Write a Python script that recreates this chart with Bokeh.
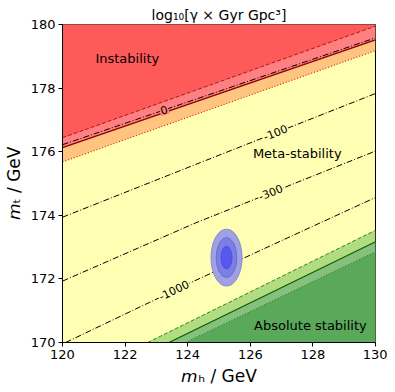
import math
from bokeh.plotting import figure
from bokeh.models import Range1d, ColumnDataSource, FixedTicker
from bokeh.core.properties import value
from bokeh.embed import file_html
from bokeh.resources import INLINE

# ---------------- data ----------------
mh_edge = [120.0, 130.0]
mt_top = [180.0, 180.0]
instab_dashed = [176.44, 179.95]
instab_solid = [176.13, 179.52]
instab_dotted = [175.68, 179.18]

c0_mh = [120.0, 130.0]
c0_mt = [176.22, 179.58]
c100_mh = [120.0, 124.41, 130.0]
c100_mt = [173.94, 175.66, 177.83]
c300_mh = [120.0, 124.25, 130.0]
c300_mt = [171.93, 173.76, 176.02]
c1000_mh = [120.1, 124.2, 127.3, 130.0]
c1000_mt = [170.0, 171.93, 173.34, 174.56]

stab_dashed_mh = [122.72, 130.0]
stab_dashed_mt = [170.0, 173.53]
stab_solid_mh = [123.40, 130.0]
stab_solid_mt = [170.0, 173.17]
stab_dotted_mh = [123.93, 130.0]
stab_dotted_mt = [170.0, 172.85]
mt_bottom = [170.0, 170.0]

mh_best = 125.24
mt_best = 172.67
ell_w = [0.99, 0.66, 0.35]
ell_h = [1.79, 1.26, 0.71]

level_text = ["0", "-100", "-300", "-1000"]
level_mh = [123.24, 126.8, 126.65, 123.56]
level_mt = [177.31, 176.60, 174.72, 171.64]
level_angle = [18.8, 21.6, 21.6, 25.5]

region_text = ["Instability", "Meta-stability", "Absolute stability"]
region_mh = [122.07, 127.5, 127.92]
region_mt = [178.92, 175.94, 170.53]

xticks = [120, 122, 124, 126, 128, 130]
yticks = [170, 172, 174, 176, 178, 180]

FONT = "DejaVu Sans"

p = figure(frame_width=313, frame_height=318,
           x_range=Range1d(120, 130), y_range=Range1d(170, 180),
           output_backend="svg", toolbar_location=None,
           min_border_left=54, min_border_right=12,
           min_border_top=24, min_border_bottom=36)

p.background_fill_color = "#ffffb3"
p.border_fill_color = "white"
p.outline_line_color = "black"
p.outline_line_width = 1
p.grid.visible = False

# ---- regions ----
p.varea(x=mh_edge, y1=instab_dotted, y2=mt_top, fill_color="#ffc47f")
p.varea(x=mh_edge, y1=instab_solid, y2=mt_top, fill_color="#ff8080")
p.varea(x=mh_edge, y1=instab_dashed, y2=mt_top, fill_color="#ff5a5a")

p.varea(x=stab_dashed_mh, y1=mt_bottom, y2=stab_dashed_mt, fill_color="#b3dc82")
p.varea(x=stab_solid_mh, y1=mt_bottom, y2=stab_solid_mt, fill_color="#86c07c")
p.varea(x=stab_dotted_mh, y1=mt_bottom, y2=stab_dotted_mt, fill_color="#5aa85a")

# ---- boundary lines ----
p.line(mh_edge, instab_dashed, line_color="#a81818", line_width=1, line_dash="4 2")
p.line(mh_edge, instab_solid, line_color="#8b0000", line_width=1.3)
p.line(mh_edge, instab_dotted, line_color="#d03010", line_width=1.2, line_dash="1 2")

p.line(stab_dashed_mh, stab_dashed_mt, line_color="#1f8f1f", line_width=1, line_dash="4 2")
p.line(stab_solid_mh, stab_solid_mt, line_color="#006400", line_width=1.2)
p.line(stab_dotted_mh, stab_dotted_mt, line_color="#2a8a2a", line_width=1.2, line_dash="1 2")

# ---- contours ----
for xs, ys in [(c0_mh, c0_mt), (c100_mh, c100_mt), (c300_mh, c300_mt), (c1000_mh, c1000_mt)]:
    p.line(xs, ys, line_color="black", line_width=1, line_dash="6 2 1 2")

# ---- ellipses ----
p.ellipse(x=mh_best, y=mt_best, width=ell_w[0], height=ell_h[0],
          fill_color="#a0a1e0", line_color="#8486dc", line_width=1)
p.ellipse(x=mh_best, y=mt_best, width=ell_w[1], height=ell_h[1],
          fill_color="#7d7ee4", line_color="#6a6cdf", line_width=1)
p.ellipse(x=mh_best, y=mt_best, width=ell_w[2], height=ell_h[2],
          fill_color="#5759ec", line_color="#4c4ee8", line_width=1)

# ---- contour labels ----
lab_src = ColumnDataSource(dict(
    x=level_mh, y=level_mt, text=level_text,
    angle=[math.radians(a) for a in level_angle],
    bg=["#ff8080", "#ffffb3", "#ffffb3", "#ffffb3"]))
p.text(x="x", y="y", text="text", angle="angle", source=lab_src,
       text_align="center", text_baseline="middle",
       text_font=value(FONT), text_font_size="11px", text_color="black",
       background_fill_color="bg", padding=1)

# ---- region labels ----
p.text(x=region_mh, y=region_mt, text=region_text,
       text_align="center", text_baseline="middle",
       text_font=value(FONT), text_font_size="13px", text_color="black")

# ---- axes ----
p.xaxis.ticker = FixedTicker(ticks=xticks)
p.yaxis.ticker = FixedTicker(ticks=yticks)
for ax in (p.xaxis[0], p.yaxis[0]):
    ax.major_label_text_font = FONT
    ax.major_label_text_font_size = "13px"
    ax.major_label_text_color = "black"
    ax.axis_label_text_font = FONT
    ax.axis_label_text_font_size = "17px"
    ax.axis_label_text_font_style = "normal"
    ax.axis_label_text_color = "black"
    ax.major_tick_in = 0
    ax.major_tick_out = 4
    ax.minor_tick_line_color = None
    ax.axis_line_color = "black"
    ax.major_tick_line_color = "black"
    ax.major_label_standoff = 3
    ax.axis_label_standoff = 4

p.xaxis.axis_label = "\U0001D62E\u2095 / GeV"
p.yaxis.axis_label = "\U0001D62E\u209C / GeV"

p.title.text = "log\u2081\u2080[\u03B3 \u00D7 Gyr Gpc\u00B3]"
p.title.align = "center"
p.title.text_font = FONT
p.title.text_font_size = "14px"
p.title.text_font_style = "normal"
p.title.text_color = "black"
p.title.standoff = 3

open("out.html", "w").write(file_html(p, INLINE))
